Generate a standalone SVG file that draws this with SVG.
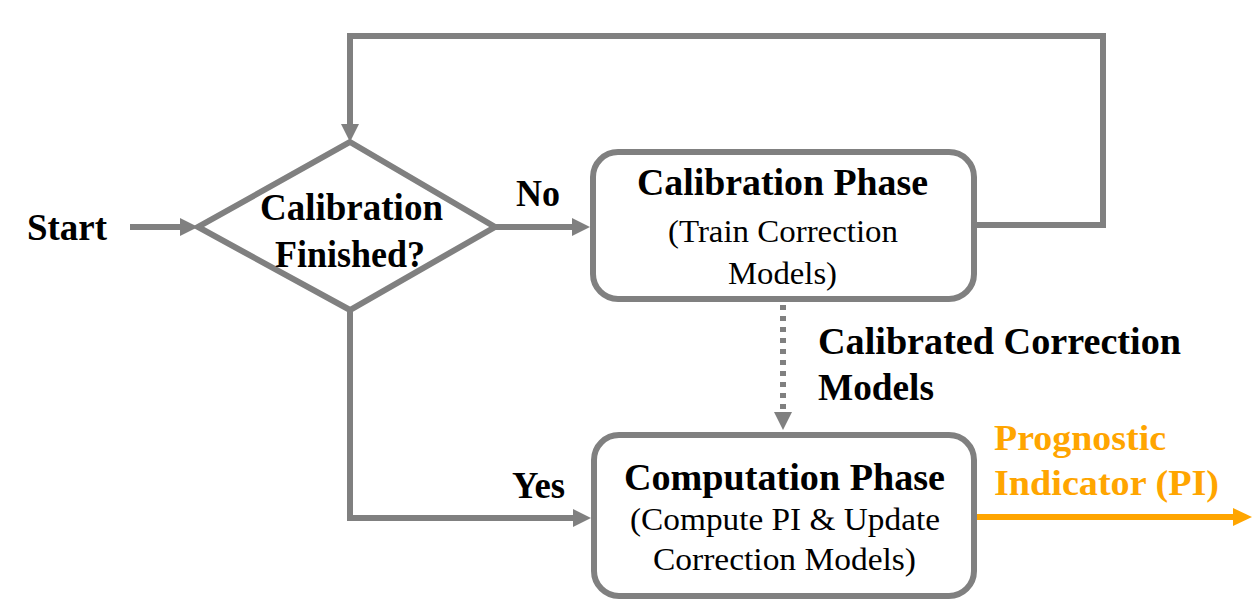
<svg xmlns="http://www.w3.org/2000/svg" width="1253" height="601" viewBox="0 0 1253 601">
<style>
.shape{fill:#ffffff;stroke:#808080;stroke-width:6}
.conn{fill:none;stroke:#808080;stroke-width:6;stroke-linejoin:miter}
.dots{fill:none;stroke:#808080;stroke-width:6;stroke-dasharray:5 6}
.out{fill:none;stroke:#FFA500;stroke-width:6}
.b{font-family:"Liberation Serif","Times New Roman",serif;font-weight:bold;font-size:37px;fill:#000}
.r{font-family:"Liberation Serif","Times New Roman",serif;font-size:32px;fill:#000}
.o{font-family:"Liberation Serif","Times New Roman",serif;font-weight:bold;font-size:36px;fill:#FFA500}
</style>
<defs>
<marker id="ah" markerUnits="userSpaceOnUse" markerWidth="18" markerHeight="18" refX="8" refY="9" orient="auto">
<path d="M0,0 L18,9 L0,18 z" fill="#808080"/>
</marker>
<marker id="aho" markerUnits="userSpaceOnUse" markerWidth="19" markerHeight="18" refX="9" refY="9" orient="auto">
<path d="M0,0 L19,9 L0,18 z" fill="#FFA500"/>
</marker>
</defs>
<rect width="1253" height="601" fill="#ffffff"/>
<g id="connectors">
<path class="conn" d="M130,227 L188,227" marker-end="url(#ah)"/>
<path class="conn" d="M495,227 L580,227" marker-end="url(#ah)"/>
<path class="conn" d="M350,310 L350,518 L581,518" marker-end="url(#ah)"/>
<path class="conn" d="M974,225 L1103,225 L1103,36 L350,36 L350,132" marker-end="url(#ah)"/>
<path class="dots" d="M783,305 L783,412"/>
<path class="conn" d="M783,412 L783,420" stroke-opacity="0" marker-end="url(#ah)"/>
<path class="out" d="M975,517 L1242,517" marker-end="url(#aho)"/>
</g>
<g id="start">
<text class="b" x="27" y="240" textLength="80" lengthAdjust="spacingAndGlyphs">Start</text>
</g>
<g id="decision">
<polygon class="shape" points="350,142 495,227 350,310 198,227"/>
<text class="b" x="260" y="220" textLength="183" lengthAdjust="spacingAndGlyphs">Calibration</text>
<text class="b" x="275" y="267" textLength="150" lengthAdjust="spacingAndGlyphs">Finished?</text>
</g>
<g id="label-no">
<text class="b" x="516" y="206" textLength="44" lengthAdjust="spacingAndGlyphs">No</text>
</g>
<g id="label-yes">
<text class="b" x="512" y="498" textLength="53" lengthAdjust="spacingAndGlyphs">Yes</text>
</g>
<g id="calibration-phase">
<rect class="shape" x="593" y="152" width="381" height="147" rx="25" ry="25"/>
<text class="b" x="637" y="195" font-size="36" textLength="291" lengthAdjust="spacingAndGlyphs">Calibration Phase</text>
<text class="r" x="668" y="242" textLength="230" lengthAdjust="spacingAndGlyphs">(Train Correction</text>
<text class="r" x="728" y="284" textLength="109" lengthAdjust="spacingAndGlyphs">Models)</text>
</g>
<g id="label-calibrated">
<text class="b" x="818" y="354" font-size="36" textLength="363" lengthAdjust="spacingAndGlyphs">Calibrated Correction</text>
<text class="b" x="818" y="400" font-size="36" textLength="116" lengthAdjust="spacingAndGlyphs">Models</text>
</g>
<g id="computation-phase">
<rect class="shape" x="594" y="435" width="380" height="161" rx="25" ry="25"/>
<text class="b" x="624" y="490" font-size="36" textLength="321" lengthAdjust="spacingAndGlyphs">Computation Phase</text>
<text class="r" x="630" y="530" textLength="310" lengthAdjust="spacingAndGlyphs">(Compute PI &amp; Update</text>
<text class="r" x="653" y="570" textLength="263" lengthAdjust="spacingAndGlyphs">Correction Models)</text>
</g>
<g id="output-label">
<text class="o" x="994" y="450" textLength="172" lengthAdjust="spacingAndGlyphs">Prognostic</text>
<text class="o" x="994" y="495" textLength="225" lengthAdjust="spacingAndGlyphs">Indicator (PI)</text>
</g>
</svg>
